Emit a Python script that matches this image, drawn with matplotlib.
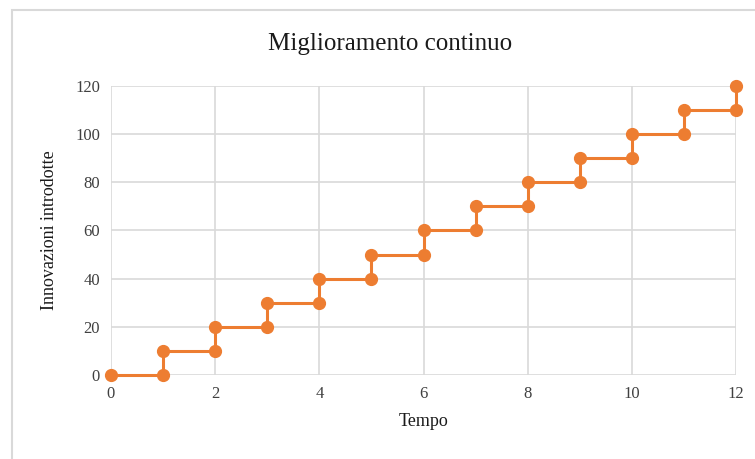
import matplotlib.pyplot as plt
from matplotlib.patches import Rectangle

# step data: each time unit adds 10 innovations
tempo = [0, 1, 1, 2, 2, 3, 3, 4, 4, 5, 5, 6, 6, 7, 7, 8, 8, 9, 9, 10, 10, 11, 11, 12, 12]
innovazioni = [0, 0, 10, 10, 20, 20, 30, 30, 40, 40, 50, 50, 60, 60, 70, 70, 80, 80, 90, 90, 100, 100, 110, 110, 120]
xticks = [0, 2, 4, 6, 8, 10, 12]
yticks = [0, 20, 40, 60, 80, 100, 120]

plt.rcParams['font.family'] = ['Liberation Serif', 'DejaVu Serif']

fig = plt.figure(figsize=(7.55, 4.59), dpi=100)
ax = fig.add_axes([0.147, 0.183, 0.828, 0.630])

# chart area border (cut off on right and bottom like the screenshot)
fig.patches.append(Rectangle((12/755, -0.1), 1.2, 1 - 10/459 + 0.1, transform=fig.transFigure,
                             fill=False, edgecolor='#d9d9d9', linewidth=1.5))

ax.plot(tempo, innovazioni, color='#ED7D31', linewidth=2.2, marker='o', markersize=8.5,
        zorder=3, clip_on=False)

ax.set_xlim(0, 12)
ax.set_ylim(0, 120)
ax.set_xticks(xticks)
ax.set_yticks(yticks)
ax.grid(True, color='#d9d9d9', linewidth=1.2)
for s in ax.spines.values():
    s.set_visible(False)
ax.tick_params(length=0, labelsize=12, colors='#404040', pad=8)

# title centred on the whole chart, like Excel
fig.text(390/755, 1 - 44/459, 'Miglioramento continuo', fontsize=18, color='#1a1a1a',
         ha='center', va='center')
ax.set_xlabel('Tempo', fontsize=13, color='#1a1a1a', labelpad=8)
ax.set_ylabel('Innovazioni introdotte', fontsize=13, color='#1a1a1a', labelpad=12)

fig.savefig('out.png', dpi=100)
